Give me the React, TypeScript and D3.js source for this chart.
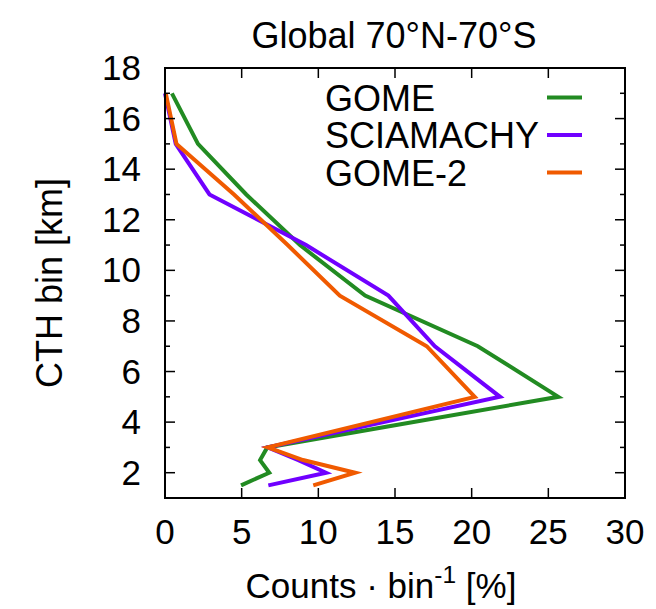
import React, { useEffect, useRef } from 'react';
import * as d3 from 'd3';

// cloud top height bins (km)
const heights = [17, 15, 13, 11, 9, 7, 5, 3, 2.5, 2, 1.5];
const gome = [0.45, 2.15, 5.3, 8.8, 13.05, 20.4, 25.65, 6.67, 6.2, 6.8, 4.96];
const sciamachy = [0.0, 0.7, 2.9, 9.2, 14.57, 17.6, 21.85, 6.7, 8.7, 10.5, 6.74];
const gome2 = [0.05, 0.75, 4.5, 8.0, 11.4, 17.07, 20.2, 6.7, 9.0, 12.4, 9.67];

const seriesNames = ['GOME', 'SCIAMACHY', 'GOME-2'];
const seriesColors = ['#228b22', '#7000ff', '#f05a00'];
const xTicks = [0, 5, 10, 15, 20, 25, 30];
const yMajor = [2, 4, 6, 8, 10, 12, 14, 16, 18];
const yMinor = [1, 3, 5, 7, 9, 11, 13, 15, 17];

const FONT = '"Liberation Sans", Arial, Helvetica, sans-serif';

export default function App() {
  const svgRef = useRef<SVGSVGElement>(null);

  useEffect(() => {
    if (!svgRef.current) return;
    const svg = d3.select(svgRef.current);
    svg.selectAll('*').remove();

    const left = 165, right = 625, top = 68, bottom = 498;
    const x = d3.scaleLinear().domain([0, 30]).range([left, right]);
    const y = d3.scaleLinear().domain([1, 18]).range([bottom, top]);
    const fs = 35;

    // lines
    const all = [gome, sciamachy, gome2];
    const line = d3.line<number>()
      .x(d => x(d))
      .y((_, i) => y(heights[i]));
    all.forEach((vals, k) => {
      svg.append('path')
        .datum(vals)
        .attr('fill', 'none')
        .attr('stroke', seriesColors[k])
        .attr('stroke-width', 4)
        .attr('stroke-linejoin', 'miter')
        .attr('d', line);
    });

    // ticks (inward, mirrored)
    const tk = svg.append('g').attr('stroke', '#000').attr('stroke-width', 1.5);
    xTicks.forEach(t => {
      tk.append('line').attr('x1', x(t)).attr('x2', x(t)).attr('y1', bottom).attr('y2', bottom - 10);
      tk.append('line').attr('x1', x(t)).attr('x2', x(t)).attr('y1', top).attr('y2', top + 10);
    });
    yMajor.forEach(t => {
      tk.append('line').attr('x1', left).attr('x2', left + 10).attr('y1', y(t)).attr('y2', y(t));
      tk.append('line').attr('x1', right).attr('x2', right - 10).attr('y1', y(t)).attr('y2', y(t));
    });
    yMinor.forEach(t => {
      tk.append('line').attr('x1', left).attr('x2', left + 5).attr('y1', y(t)).attr('y2', y(t));
      tk.append('line').attr('x1', right).attr('x2', right - 5).attr('y1', y(t)).attr('y2', y(t));
    });

    // frame
    svg.append('rect')
      .attr('x', left).attr('y', top)
      .attr('width', right - left).attr('height', bottom - top)
      .attr('fill', 'none').attr('stroke', '#000').attr('stroke-width', 2);

    const txt = svg.append('g').attr('font-family', FONT).attr('font-size', fs).attr('fill', '#000');

    xTicks.forEach(t => {
      txt.append('text').attr('x', x(t)).attr('y', 544)
        .attr('text-anchor', 'middle').text(t);
    });
    yMajor.forEach(t => {
      txt.append('text').attr('x', 141).attr('y', y(t) + 12)
        .attr('text-anchor', 'end').text(t);
    });

    txt.append('text').attr('x', 394).attr('y', 48).attr('font-size', 36)
      .attr('text-anchor', 'middle').text('Global 70°N-70°S');

    txt.append('text')
      .attr('transform', `translate(62,283) rotate(-90)`)
      .attr('font-size', 36)
      .attr('text-anchor', 'middle').text('CTH bin [km]');

    const xl = txt.append('text').attr('x', 381).attr('y', 598).attr('text-anchor', 'middle');
    xl.append('tspan').text('Counts · bin');
    xl.append('tspan').attr('font-size', fs * 0.7).attr('dy', -15).text('-1');
    xl.append('tspan').attr('dy', 15).text(' [%]');

    // legend
    seriesNames.forEach((n, k) => {
      const ly = 97.5 + k * 37.5;
      txt.append('text').attr('x', 325).attr('y', ly + 13).attr('font-size', 36).text(n);
      svg.append('line')
        .attr('x1', 547).attr('x2', 582).attr('y1', ly).attr('y2', ly)
        .attr('stroke', seriesColors[k]).attr('stroke-width', 4);
    });
  }, []);

  return (
    <svg ref={svgRef} width={656} height={609} style={{ position: 'absolute', left: 0, top: 0 }} />
  );
}
